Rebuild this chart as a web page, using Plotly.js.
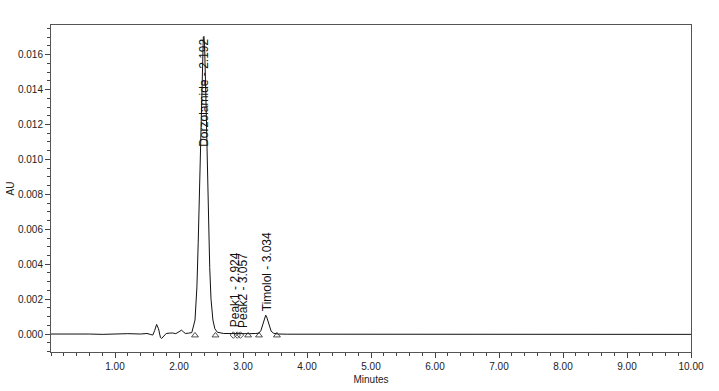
<!DOCTYPE html>
<html>
<head>
<meta charset="utf-8">
<script src="https://cdn.plot.ly/plotly-3.0.1.min.js"></script>
<style>html,body{margin:0;padding:0;background:#fff;}#chart{width:719px;height:391px;}</style>
</head>
<body>
<div id="chart"></div>
<script>
// Chromatogram trace (minutes, AU)
var timeMin = [0.00,0.20,0.40,0.60,0.80,1.00,1.20,1.40,1.50,1.55,1.59,1.62,1.65,1.68,1.71,1.73,1.76,1.80,1.85,1.90,1.95,1.98,2.01,2.04,2.07,2.10,2.15,2.20,2.25,2.28,2.30,2.32,2.34,2.36,2.38,2.39,2.40,2.42,2.44,2.46,2.48,2.50,2.53,2.56,2.60,2.70,2.80,2.90,3.00,3.10,3.20,3.25,3.28,3.30,3.32,3.34,3.355,3.37,3.39,3.41,3.44,3.48,3.55,3.70,4.00,4.25,4.50,4.75,5.00,5.25,5.50,5.75,6.00,6.25,6.50,6.75,7.00,7.25,7.50,7.75,8.00,8.25,8.50,8.75,9.00,9.25,9.50,9.75,10.00];
var absorbance = [0.00000,0.00001,-0.00001,0.00000,-0.00002,0.00001,0.00002,0.00000,0.00003,-0.00002,-0.00006,0.00020,0.00055,0.00030,-0.00020,-0.00025,-0.00010,0.00003,0.00005,0.00006,0.00002,0.00008,0.00015,0.00022,0.00012,0.00003,0.00005,0.00008,0.00080,0.00270,0.00520,0.00850,0.01220,0.01540,0.01700,0.01705,0.01650,0.01360,0.00990,0.00650,0.00380,0.00200,0.00080,0.00030,0.00010,0.00003,0.00002,0.00002,0.00001,0.00002,0.00003,0.00005,0.00020,0.00044,0.00072,0.00098,0.00108,0.00098,0.00070,0.00042,0.00016,0.00004,0.00000,-0.00001,-0.00001,0.00000,-0.00002,0.00000,0.00001,-0.00001,0.00000,-0.00002,-0.00001,0.00000,-0.00002,-0.00001,0.00000,-0.00002,-0.00001,-0.00002,0.00000,-0.00001,-0.00002,-0.00001,-0.00002,-0.00001,-0.00002,-0.00002,-0.00002];

// X tick labels (minutes)
var xTickVals = [1, 2, 3, 4, 5, 6, 7, 8, 9, 10];
var xTickText = ["1.00", "2.00", "3.00", "4.00", "5.00", "6.00", "7.00", "8.00", "9.00", "10.00"];

// Integration marks
var triangleTimes = [2.25, 2.57, 3.08, 3.25, 3.53];
var triangleLevel = [-0.00008, -0.00008, -0.00008, -0.00008, -0.00008];
var diamondTimes = [2.85, 2.91, 2.96];
var diamondLevel = [-0.00006, -0.00006, -0.00006];

// Peak labels
var peakLabels = ["Dorzolamide - 2.192", "Peak1 - 2.924", "Peak2 - 3.057", "Timolol - 3.034"];
var labelTimes = [2.39, 2.875, 3.01, 3.37];
var labelLevels = [0.01066, 0.0003, 0.0003, 0.00126];

var traces = [
  {x: timeMin, y: absorbance, type: 'scatter', mode: 'lines', line: {color: '#111', width: 1}, hoverinfo: 'skip'},
  {x: triangleTimes, y: triangleLevel, type: 'scatter', mode: 'markers', marker: {symbol: 'triangle-up-open', size: 6, color: '#222', line: {width: 0.8}}},
  {x: diamondTimes, y: diamondLevel, type: 'scatter', mode: 'markers', marker: {symbol: 'diamond-open', size: 5, color: '#222', line: {width: 0.8}}}
];

var annotations = peakLabels.map(function(t, i) {
  return {x: labelTimes[i], y: labelLevels[i], xref: 'x', yref: 'y', text: t, showarrow: false,
    textangle: -90, xanchor: 'center', yanchor: 'bottom', borderpad: 0,
    font: {family: 'Liberation Sans, Arial, sans-serif', size: 12, color: '#111'}};
});
annotations.push({x: 10, y: 0.5, xref: 'paper', yref: 'paper', xanchor: 'center', yanchor: 'middle',
  text: 'AU', textangle: -90, showarrow: false, font: {size: 10, color: '#222'}});

var layout = {
  width: 719, height: 391,
  margin: {l: 51, r: 28, t: 25, b: 39},
  paper_bgcolor: '#fff', plot_bgcolor: '#fff',
  showlegend: false,
  font: {family: 'Liberation Sans, Arial, sans-serif', size: 10, color: '#222'},
  xaxis: {
    range: [0, 10], tickmode: 'array', tickvals: xTickVals, ticktext: xTickText,
    showgrid: false, zeroline: false,
    showline: true, linecolor: '#555', linewidth: 1, mirror: true,
    ticks: 'outside', ticklen: 5, tickcolor: '#444', tickwidth: 1,
    minor: {tickmode: 'linear', tick0: 0, dtick: 0.2, ticks: 'outside', ticklen: 3, tickcolor: '#444', showgrid: false},
    title: {text: 'Minutes', font: {size: 10, color: '#222'}, standoff: 4},
    tickfont: {size: 10, color: '#222'}
  },
  yaxis: {
    range: [-0.00103, 0.0177], dtick: 0.002, tick0: 0, tickformat: '.3f',
    showgrid: false, zeroline: false,
    showline: true, linecolor: '#555', linewidth: 1, mirror: true,
    ticks: 'outside', ticklen: 5, tickcolor: '#444', tickwidth: 1,
    minor: {dtick: 0.0005, ticks: 'outside', ticklen: 3, tickcolor: '#444', showgrid: false},
    tickfont: {size: 10, color: '#222'}
  },
  annotations: annotations
};
// Y title placed in paper pixels via annotation
layout.annotations[layout.annotations.length - 1].x = -41 / 640;

Plotly.newPlot('chart', traces, layout, {displayModeBar: false, staticPlot: true});
</script>
</body>
</html>
